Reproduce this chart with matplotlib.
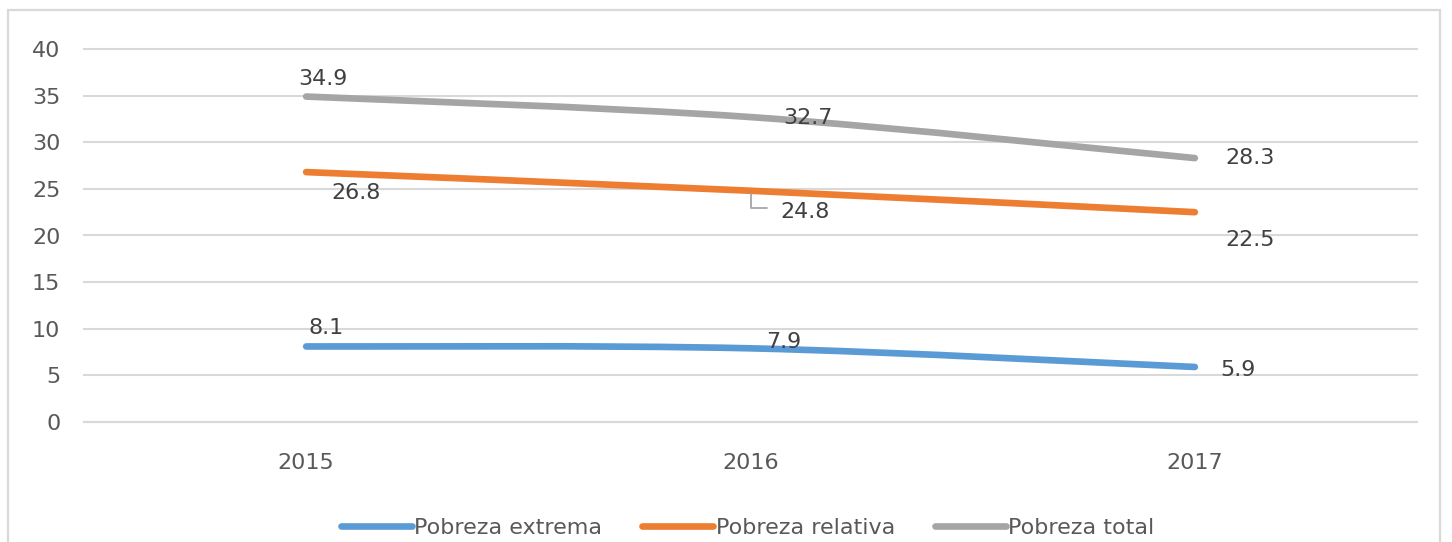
import numpy as np
import matplotlib
matplotlib.use('Agg')
import matplotlib.pyplot as plt
from matplotlib.path import Path
from matplotlib.patches import PathPatch, Rectangle
from matplotlib.lines import Line2D

# datos
years = ['2015', '2016', '2017']
extrema = [8.1, 7.9, 5.9]
relativa = [26.8, 24.8, 22.5]
total = [34.9, 32.7, 28.3]
series_names = ['Pobreza extrema', 'Pobreza relativa', 'Pobreza total']

colors = ['#5B9BD5', '#ED7D31', '#A5A5A5']
txt = '#404040'

plt.rcParams['font.family'] = ['DejaVu Sans']

# curva suavizada tipo Excel (Bezier), solo para dibujar
def smooth_path(xs, ys):
    pts = np.column_stack([xs, ys]).astype(float)
    n = len(pts)
    verts = [pts[0]]
    codes = [Path.MOVETO]
    for i in range(n - 1):
        p0 = pts[i - 1] if i > 0 else pts[i]
        p1 = pts[i]
        p2 = pts[i + 1]
        p3 = pts[i + 2] if i + 2 < n else pts[i + 1]
        c1 = p1 + (p2 - p0) / 6.0
        c2 = p2 - (p3 - p1) / 6.0
        verts += [c1, c2, p2]
        codes += [Path.CURVE4] * 3
    return Path(verts, codes)

fig = plt.figure(figsize=(14.52, 5.42), dpi=100)
ax = fig.add_axes([84/1452, 1 - 422/542, (1417-84)/1452, (422-49)/542])

# marco del grafico
fig.patches.append(Rectangle((8/1452, -0.05), (1440-8)/1452, 1 - 10/542 + 0.05,
                             transform=fig.transFigure, fill=False,
                             edgecolor='#D9D9D9', lw=1.6))

x = np.arange(len(years))
all_series = [extrema, relativa, total]
for vals, c in zip(all_series, colors):
    patch = PathPatch(smooth_path(x, vals), facecolor='none', edgecolor=c,
                      lw=4.8, capstyle='round', joinstyle='round', zorder=3)
    ax.add_patch(patch)

# etiquetas de datos (desplazamientos en pixeles)
offsets = [
    [(20, 18), (33, 6), (43, -3)],
    [(50, -21), (55, -21), (55, -28)],
    [(17, 18), (57, -1), (55, 0)],
]
for vals, offs in zip(all_series, offsets):
    for xi, v, off in zip(x, vals, offs):
        ax.annotate(f'{v:.1f}', (xi, v), xytext=off, textcoords='offset pixels',
                    ha='center', va='center', fontsize=16, color=txt, zorder=4)

# linea guia de 24.8
ax.annotate('', (x[1], relativa[1]), xytext=(x[1] + 0.038, relativa[1] - 1.8),
            arrowprops=dict(arrowstyle='-', color='#A6A6A6', lw=1.3,
                            shrinkA=0, shrinkB=2,
                            connectionstyle='angle,angleA=0,angleB=90,rad=0'))

ax.set_xlim(-0.5, 2.5)
ax.set_ylim(0, 40)
ax.set_yticks(range(0, 41, 5))
ax.set_xticks(x)
ax.set_xticklabels(years)
ax.grid(axis='y', color='#D9D9D9', lw=1.5)
for gl in ax.get_ygridlines():
    gl.set_clip_on(False)
ax.set_axisbelow(True)
for s in ['top', 'right', 'left']:
    ax.spines[s].set_visible(False)
ax.spines['bottom'].set_color('#D9D9D9')
ax.spines['bottom'].set_linewidth(1.5)
ax.tick_params(axis='both', length=0, labelsize=16, labelcolor='#595959')
ax.tick_params(axis='y', pad=17)
ax.tick_params(axis='x', pad=22)

handles = [Line2D([0], [0], color=c, lw=4.8, solid_capstyle='round') for c in colors]
fig.legend(handles, series_names, loc='center', bbox_to_anchor=(0.515, 1 - 528/542),
           ncol=3, frameon=False, fontsize=16, labelcolor='#595959',
           handlelength=3.2, handletextpad=0.1, columnspacing=1.8)

fig.savefig('out.png', dpi=100)
